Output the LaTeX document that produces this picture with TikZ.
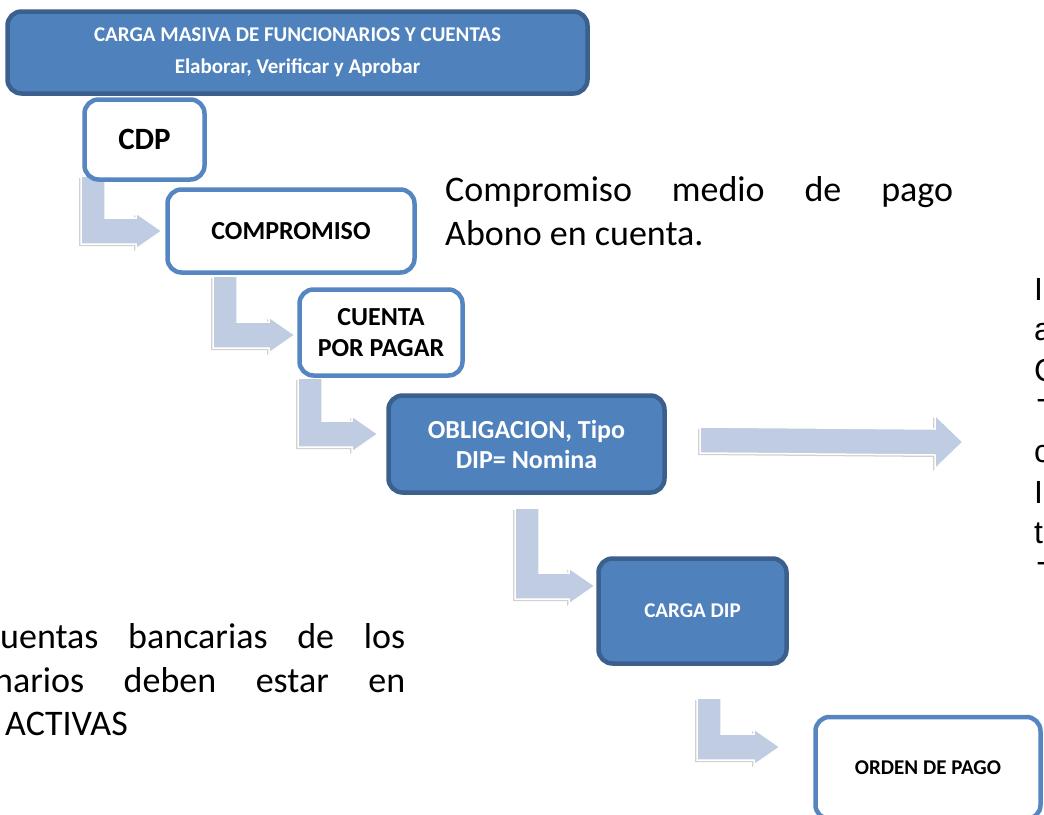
\documentclass[tikz,border=0pt]{standalone}
\usepackage{fontspec}
\setmainfont{Carlito}
\newfontfamily\arialfont{Liberation Sans}
\usetikzlibrary{calc,shadows}
\definecolor{darkblue}{HTML}{4F81BD}
\definecolor{darkedge}{HTML}{3B608D}
\definecolor{lightedge}{HTML}{5586C1}
\definecolor{arrowfill}{HTML}{C0CCE1}
\tikzset{
  darkbox/.style={draw=darkedge, fill=darkblue, line width=4.5pt, rounded corners=14pt, text=white, align=center, inner sep=0pt},
  lightbox/.style={draw=lightedge, fill=white, line width=4.5pt, rounded corners=14pt, text=black, align=center, inner sep=0pt},
  blockarrow/.style={draw=white, line width=1.5pt, fill=arrowfill, line join=miter,
    drop shadow={shadow xshift=-2pt, shadow yshift=-2pt, opacity=0.3, fill=black!60}},
  bodytext/.style={anchor=base west, inner sep=0pt, font=\fontsize{36}{44}\selectfont},
  sidetext/.style={anchor=base west, inner sep=0pt, font=\arialfont\fontsize{32}{40}\selectfont}
}
\newcommand{\bentarrow}[2]{%
  \path[blockarrow] let \p1=(#1), \p2=(#2) in
    (\x1,\y1) -- (\x1+24pt,\y1) -- (\x1+24pt,\y2+13pt) -- (\x2-26pt,\y2+13pt)
    -- (\x2-26pt,\y2+18pt) -- (\x2,\y2) -- (\x2-26pt,\y2-18pt) -- (\x2-26pt,\y2-13pt)
    -- (\x1,\y2-13pt) -- cycle;}
\newcommand{\longarrow}[2]{%
  \path[blockarrow] let \p1=(#1), \p2=(#2) in
    (\x1,\y1+13pt) -- (\x2-28pt,\y2+13pt) -- (\x2-28pt,\y2+27pt) -- (\x2,\y2)
    -- (\x2-28pt,\y2-27pt) -- (\x2-28pt,\y2-13pt) -- (\x1,\y1-13pt) -- cycle;}

\begin{document}
\begin{tikzpicture}[x=1pt,y=-1pt]
    \useasboundingbox (0,0) rectangle (1044,814);
    \clip (0,0) rectangle (1044,814);

    \coordinate (a1s) at (81,176);   \coordinate (a1e) at (162,231);
    \coordinate (a2s) at (213,276);  \coordinate (a2e) at (295,335);
    \coordinate (a3s) at (298,378);  \coordinate (a3e) at (378,434);
    \coordinate (a4s) at (515,508);  \coordinate (a4e) at (595,586);
    \coordinate (a5s) at (697,698);  \coordinate (a5e) at (780,747);
    \coordinate (rs) at (700,440);   \coordinate (re) at (963,442);

    \bentarrow{a1s}{a1e}
    \bentarrow{a2s}{a2e}
    \bentarrow{a3s}{a3e}
    \bentarrow{a4s}{a4e}
    \bentarrow{a5s}{a5e}
    \longarrow{rs}{re}

    \node[darkbox, minimum width=580pt, minimum height=82pt, font=\bfseries\fontsize{21}{32}\selectfont]
        (carga) at (297.5,52.5) {CARGA MASIVA DE FUNCIONARIOS Y CUENTAS\\Elaborar, Verificar y Aprobar};
    \node[lightbox, minimum width=120pt, minimum height=80pt, font=\bfseries\fontsize{31}{36}\selectfont]
        (cdp) at (144.5,139.5) {CDP};
    \node[lightbox, minimum width=247pt, minimum height=83pt, font=\bfseries\fontsize{26}{31}\selectfont]
        (compromiso) at (291,231) {COMPROMISO};
    \node[lightbox, minimum width=163pt, minimum height=86pt, font=\bfseries\fontsize{26}{31}\selectfont]
        (cuenta) at (381,332.5) {CUENTA\\POR PAGAR};
    \node[darkbox, minimum width=276pt, minimum height=97pt, font=\bfseries\fontsize{26}{30}\selectfont]
        (obligacion) at (526.5,444) {OBLIGACION, Tipo\\DIP= Nomina};
    \node[darkbox, minimum width=188pt, minimum height=105pt, font=\bfseries\fontsize{21}{26}\selectfont]
        (cargadip) at (692.5,611) {CARGA DIP};
    \node[lightbox, minimum width=225pt, minimum height=102pt, font=\bfseries\fontsize{21}{26}\selectfont]
        (orden) at (928,768) {ORDEN DE PAGO};

    \node[bodytext] (medio1) at (445,201) {\makebox[508pt][s]{Compromiso medio de pago}};
    \node[bodytext] (medio2) at (445,245) {Abono en cuenta.};

    \node[bodytext] (nota1) at (0,648) {\makebox[405pt][s]{uentas bancarias de los}};
    \node[bodytext] (nota2) at (-6,692) {\makebox[411pt][s]{narios deben estar en}};
    \node[bodytext] (nota3) at (5,735) {ACTIVAS};

    \foreach \ch/\xx [count=\i] in {I/1034,a/1034,C/1034,T/1037,c/1034,I/1034,t/1034,T/1037}
        \node[sidetext] (side\i) at (\xx,259.4+40.6*\i) {\ch};
\end{tikzpicture}
\end{document}
